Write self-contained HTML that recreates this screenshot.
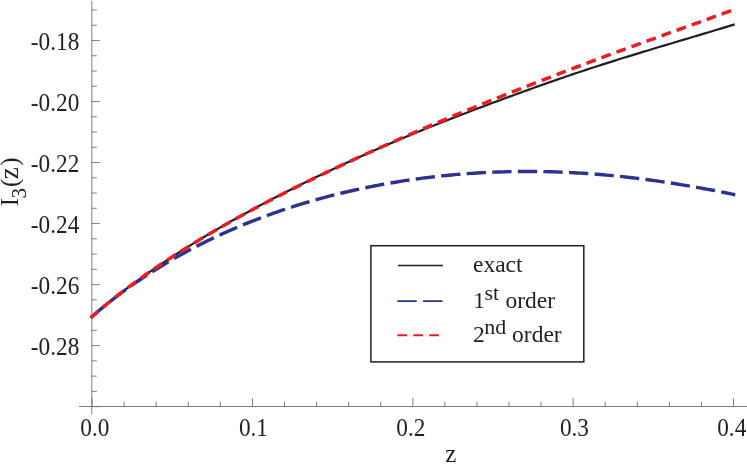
<!DOCTYPE html>
<html><head><meta charset="utf-8"><title>plot</title>
<style>
html,body{margin:0;padding:0;background:#fff;}
svg{display:block;will-change:transform;opacity:0.9999;}
text{font-family:"Liberation Serif", serif;fill:#231f20;}
</style></head><body>
<svg width="747" height="464" viewBox="0 0 747 464">
<rect width="747" height="464" fill="#fff"/>

<g stroke="#707070" stroke-width="0.9" fill="none">
<line x1="91.8" y1="1" x2="91.8" y2="414.6"/>
<line x1="78.8" y1="406.5" x2="747" y2="406.5"/>
<line x1="92.05" y1="406.5" x2="92.05" y2="398.10"/>
<line x1="124.12" y1="406.5" x2="124.12" y2="401.60"/>
<line x1="156.20" y1="406.5" x2="156.20" y2="401.60"/>
<line x1="188.27" y1="406.5" x2="188.27" y2="401.60"/>
<line x1="220.35" y1="406.5" x2="220.35" y2="401.60"/>
<line x1="252.42" y1="406.5" x2="252.42" y2="398.10"/>
<line x1="284.49" y1="406.5" x2="284.49" y2="401.60"/>
<line x1="316.57" y1="406.5" x2="316.57" y2="401.60"/>
<line x1="348.64" y1="406.5" x2="348.64" y2="401.60"/>
<line x1="380.72" y1="406.5" x2="380.72" y2="401.60"/>
<line x1="412.79" y1="406.5" x2="412.79" y2="398.10"/>
<line x1="444.86" y1="406.5" x2="444.86" y2="401.60"/>
<line x1="476.94" y1="406.5" x2="476.94" y2="401.60"/>
<line x1="509.01" y1="406.5" x2="509.01" y2="401.60"/>
<line x1="541.09" y1="406.5" x2="541.09" y2="401.60"/>
<line x1="573.16" y1="406.5" x2="573.16" y2="398.10"/>
<line x1="605.23" y1="406.5" x2="605.23" y2="401.60"/>
<line x1="637.31" y1="406.5" x2="637.31" y2="401.60"/>
<line x1="669.38" y1="406.5" x2="669.38" y2="401.60"/>
<line x1="701.46" y1="406.5" x2="701.46" y2="401.60"/>
<line x1="733.53" y1="406.5" x2="733.53" y2="398.10"/>
<line x1="91.8" y1="406.62" x2="99.80" y2="406.62"/>
<line x1="91.8" y1="391.36" x2="96.80" y2="391.36"/>
<line x1="91.8" y1="376.11" x2="96.80" y2="376.11"/>
<line x1="91.8" y1="360.85" x2="96.80" y2="360.85"/>
<line x1="91.8" y1="345.60" x2="99.80" y2="345.60"/>
<line x1="91.8" y1="330.34" x2="96.80" y2="330.34"/>
<line x1="91.8" y1="315.09" x2="96.80" y2="315.09"/>
<line x1="91.8" y1="299.84" x2="96.80" y2="299.84"/>
<line x1="91.8" y1="284.58" x2="99.80" y2="284.58"/>
<line x1="91.8" y1="269.33" x2="96.80" y2="269.33"/>
<line x1="91.8" y1="254.07" x2="96.80" y2="254.07"/>
<line x1="91.8" y1="238.81" x2="96.80" y2="238.81"/>
<line x1="91.8" y1="223.56" x2="99.80" y2="223.56"/>
<line x1="91.8" y1="208.30" x2="96.80" y2="208.30"/>
<line x1="91.8" y1="193.05" x2="96.80" y2="193.05"/>
<line x1="91.8" y1="177.79" x2="96.80" y2="177.79"/>
<line x1="91.8" y1="162.54" x2="99.80" y2="162.54"/>
<line x1="91.8" y1="147.28" x2="96.80" y2="147.28"/>
<line x1="91.8" y1="132.03" x2="96.80" y2="132.03"/>
<line x1="91.8" y1="116.77" x2="96.80" y2="116.77"/>
<line x1="91.8" y1="101.52" x2="99.80" y2="101.52"/>
<line x1="91.8" y1="86.27" x2="96.80" y2="86.27"/>
<line x1="91.8" y1="71.01" x2="96.80" y2="71.01"/>
<line x1="91.8" y1="55.76" x2="96.80" y2="55.76"/>
<line x1="91.8" y1="40.50" x2="99.80" y2="40.50"/>
<line x1="91.8" y1="25.24" x2="96.80" y2="25.24"/>
<line x1="91.8" y1="9.99" x2="96.80" y2="9.99"/>
</g>
<text transform="translate(80.28,436.40) scale(1,1.05)" font-size="23.3" text-anchor="start">0.0</text>
<text transform="translate(238.90,436.40) scale(1,1.05)" font-size="23.3" text-anchor="start">0.1</text>
<text transform="translate(396.27,436.40) scale(1,1.05)" font-size="23.3" text-anchor="start">0.2</text>
<text transform="translate(559.90,436.40) scale(1,1.05)" font-size="23.3" text-anchor="start">0.3</text>
<text transform="translate(717.20,436.40) scale(1,1.05)" font-size="23.3" text-anchor="start">0.4</text>
<text transform="translate(79.30,49.90) scale(1,1.05)" font-size="23.3" text-anchor="end">-0.18</text>
<text transform="translate(79.30,110.92) scale(1,1.05)" font-size="23.3" text-anchor="end">-0.20</text>
<text transform="translate(79.30,171.94) scale(1,1.05)" font-size="23.3" text-anchor="end">-0.22</text>
<text transform="translate(79.30,232.96) scale(1,1.05)" font-size="23.3" text-anchor="end">-0.24</text>
<text transform="translate(79.30,293.98) scale(1,1.05)" font-size="23.3" text-anchor="end">-0.26</text>
<text transform="translate(79.30,355.00) scale(1,1.05)" font-size="23.3" text-anchor="end">-0.28</text>
<text transform="translate(450.80,461.60) scale(1,1.02)" font-size="25" text-anchor="middle">z</text>
<g transform="translate(18.05,206.3) rotate(-90)"><text x="0" y="0" font-size="25">I</text><text x="7.83" y="7.55" font-size="21">3</text><text x="19.43" y="0" font-size="25">(</text><text x="27.0" y="0" font-size="27">z</text><text x="40.66" y="0" font-size="25">)</text></g>
<path d="M91.60,316.99 L94.81,314.16 L98.02,311.39 L101.23,308.68 L104.44,306.01 L107.65,303.38 L110.86,300.79 L114.07,298.24 L117.28,295.73 L120.49,293.24 L123.70,290.79 L126.91,288.37 L130.12,285.97 L133.34,283.61 L136.55,281.27 L139.76,278.95 L142.97,276.66 L146.18,274.39 L149.39,272.15 L152.60,269.93 L155.81,267.73 L159.02,265.55 L162.23,263.39 L165.44,261.25 L168.65,259.13 L171.86,257.03 L175.07,254.95 L178.28,252.89 L181.49,250.84 L184.70,248.82 L187.91,246.81 L191.12,244.82 L194.33,242.84 L197.54,240.88 L200.75,238.93 L203.96,237.00 L207.17,235.09 L210.39,233.19 L213.60,231.30 L216.81,229.43 L220.02,227.58 L223.23,225.73 L226.44,223.90 L229.65,222.08 L232.86,220.28 L236.07,218.48 L239.28,216.70 L242.49,214.93 L245.70,213.18 L248.91,211.43 L252.12,209.70 L255.33,207.97 L258.54,206.26 L261.75,204.56 L264.96,202.87 L268.17,201.18 L271.38,199.51 L274.59,197.85 L277.80,196.20 L281.01,194.55 L284.22,192.92 L287.43,191.29 L290.65,189.68 L293.86,188.07 L297.07,186.47 L300.28,184.88 L303.49,183.30 L306.70,181.73 L309.91,180.16 L313.12,178.61 L316.33,177.06 L319.54,175.52 L322.75,173.98 L325.96,172.46 L329.17,170.94 L332.38,169.43 L335.59,167.93 L338.80,166.43 L342.01,164.94 L345.22,163.46 L348.43,161.99 L351.64,160.52 L354.85,159.06 L358.06,157.61 L361.27,156.17 L364.48,154.73 L367.69,153.30 L370.91,151.88 L374.12,150.46 L377.33,149.05 L380.54,147.65 L383.75,146.26 L386.96,144.87 L390.17,143.50 L393.38,142.12 L396.59,140.76 L399.80,139.40 L403.01,138.05 L406.22,136.71 L409.43,135.38 L412.64,134.05 L415.85,132.73 L419.06,131.42 L422.27,130.11 L425.48,128.81 L428.69,127.52 L431.90,126.24 L435.11,124.96 L438.32,123.68 L441.53,122.42 L444.74,121.16 L447.96,119.90 L451.17,118.65 L454.38,117.41 L457.59,116.17 L460.80,114.94 L464.01,113.71 L467.22,112.48 L470.43,111.26 L473.64,110.05 L476.85,108.83 L480.06,107.62 L483.27,106.42 L486.48,105.21 L489.69,104.01 L492.90,102.82 L496.11,101.62 L499.32,100.43 L502.53,99.25 L505.74,98.06 L508.95,96.88 L512.16,95.70 L515.37,94.53 L518.58,93.36 L521.79,92.19 L525.00,91.03 L528.22,89.87 L531.43,88.71 L534.64,87.56 L537.85,86.41 L541.06,85.27 L544.27,84.14 L547.48,83.00 L550.69,81.88 L553.90,80.76 L557.11,79.64 L560.32,78.53 L563.53,77.43 L566.74,76.33 L569.95,75.24 L573.16,74.16 L576.37,73.08 L579.58,72.01 L582.79,70.94 L586.00,69.88 L589.21,68.82 L592.42,67.77 L595.63,66.73 L598.84,65.69 L602.05,64.66 L605.26,63.63 L608.48,62.61 L611.69,61.59 L614.90,60.58 L618.11,59.57 L621.32,58.57 L624.53,57.57 L627.74,56.58 L630.95,55.59 L634.16,54.60 L637.37,53.62 L640.58,52.64 L643.79,51.66 L647.00,50.69 L650.21,49.71 L653.42,48.75 L656.63,47.78 L659.84,46.82 L663.05,45.85 L666.26,44.89 L669.47,43.93 L672.68,42.98 L675.89,42.02 L679.10,41.06 L682.31,40.11 L685.53,39.15 L688.74,38.19 L691.95,37.24 L695.16,36.28 L698.37,35.33 L701.58,34.37 L704.79,33.41 L708.00,32.45 L711.21,31.48 L714.42,30.52 L717.63,29.55 L720.84,28.58 L724.05,27.61 L727.26,26.63 L730.47,25.65 L733.68,24.67" fill="none" stroke="#231f20" stroke-width="2.2" stroke-linecap="square"/>
<path d="M90.60,317.88 L93.82,315.03 L97.05,312.24 L100.27,309.52 L103.49,306.85 L106.72,304.24 L109.94,301.67 L113.16,299.16 L116.39,296.69 L119.61,294.26 L122.83,291.87 L126.06,289.52 L129.28,287.21 L132.51,284.93 L135.73,282.70 L138.95,280.49 L142.18,278.32 L145.40,276.19 L148.62,274.09 L151.85,272.02 L155.07,269.98 L158.29,267.97 L161.52,265.99 L164.74,264.05 L167.96,262.13 L171.19,260.24 L174.41,258.38 L177.63,256.55 L180.86,254.74 L184.08,252.96 L187.30,251.21 L190.53,249.49 L193.75,247.79 L196.97,246.12 L200.20,244.48 L203.42,242.86 L206.64,241.26 L209.87,239.69 L213.09,238.14 L216.31,236.62 L219.54,235.12 L222.76,233.64 L225.98,232.18 L229.21,230.75 L232.43,229.34 L235.65,227.96 L238.88,226.59 L242.10,225.25 L245.32,223.92 L248.55,222.62 L251.77,221.34 L255.00,220.08 L258.22,218.84 L261.44,217.62 L264.67,216.42 L267.89,215.24 L271.11,214.07 L274.34,212.93 L277.56,211.81 L280.78,210.70 L284.01,209.61 L287.23,208.54 L290.45,207.49 L293.68,206.46 L296.90,205.45 L300.12,204.45 L303.35,203.47 L306.57,202.50 L309.79,201.56 L313.02,200.63 L316.24,199.72 L319.46,198.82 L322.69,197.94 L325.91,197.08 L329.13,196.23 L332.36,195.40 L335.58,194.58 L338.80,193.78 L342.03,193.00 L345.25,192.23 L348.47,191.48 L351.70,190.74 L354.92,190.02 L358.14,189.31 L361.37,188.62 L364.59,187.94 L367.82,187.28 L371.04,186.63 L374.26,186.00 L377.49,185.38 L380.71,184.77 L383.93,184.18 L387.16,183.60 L390.38,183.04 L393.60,182.49 L396.83,181.96 L400.05,181.44 L403.27,180.93 L406.50,180.44 L409.72,179.96 L412.94,179.50 L416.17,179.05 L419.39,178.61 L422.61,178.18 L425.84,177.77 L429.06,177.38 L432.28,176.99 L435.51,176.62 L438.73,176.26 L441.95,175.92 L445.18,175.59 L448.40,175.27 L451.62,174.96 L454.85,174.67 L458.07,174.39 L461.29,174.13 L464.52,173.87 L467.74,173.63 L470.96,173.41 L474.19,173.19 L477.41,172.99 L480.63,172.80 L483.86,172.63 L487.08,172.46 L490.31,172.31 L493.53,172.17 L496.75,172.05 L499.98,171.94 L503.20,171.83 L506.42,171.75 L509.65,171.67 L512.87,171.61 L516.09,171.56 L519.32,171.52 L522.54,171.50 L525.76,171.48 L528.99,171.48 L532.21,171.49 L535.43,171.52 L538.66,171.55 L541.88,171.60 L545.10,171.66 L548.33,171.73 L551.55,171.82 L554.77,171.92 L558.00,172.02 L561.22,172.15 L564.44,172.28 L567.67,172.42 L570.89,172.58 L574.11,172.75 L577.34,172.93 L580.56,173.12 L583.78,173.32 L587.01,173.54 L590.23,173.77 L593.45,174.00 L596.68,174.25 L599.90,174.52 L603.12,174.79 L606.35,175.07 L609.57,175.37 L612.80,175.67 L616.02,175.99 L619.24,176.32 L622.47,176.66 L625.69,177.01 L628.91,177.37 L632.14,177.74 L635.36,178.13 L638.58,178.52 L641.81,178.92 L645.03,179.34 L648.25,179.76 L651.48,180.20 L654.70,180.64 L657.92,181.10 L661.15,181.56 L664.37,182.04 L667.59,182.52 L670.82,183.02 L674.04,183.52 L677.26,184.04 L680.49,184.56 L683.71,185.09 L686.93,185.63 L690.16,186.18 L693.38,186.74 L696.60,187.30 L699.83,187.88 L703.05,188.46 L706.27,189.05 L709.50,189.65 L712.72,190.26 L715.94,190.87 L719.17,191.50 L722.39,192.13 L725.61,192.76 L728.84,193.41 L732.06,194.06 L735.29,194.71" fill="none" stroke="#2e3192" stroke-width="3.4" stroke-dasharray="19.3 6.3" stroke-dashoffset="-0.15"/>
<path d="M90.60,317.88 L93.82,315.03 L97.03,312.24 L100.25,309.51 L103.46,306.82 L106.68,304.17 L109.89,301.57 L113.11,299.01 L116.32,296.48 L119.54,293.98 L122.75,291.52 L125.97,289.08 L129.19,286.68 L132.40,284.30 L135.62,281.95 L138.83,279.63 L142.05,277.33 L145.26,275.05 L148.48,272.80 L151.69,270.57 L154.91,268.36 L158.12,266.18 L161.34,264.01 L164.55,261.87 L167.77,259.75 L170.99,257.64 L174.20,255.56 L177.42,253.49 L180.63,251.45 L183.85,249.42 L187.06,247.40 L190.28,245.41 L193.49,243.43 L196.71,241.47 L199.92,239.52 L203.14,237.59 L206.36,235.68 L209.57,233.78 L212.79,231.89 L216.00,230.02 L219.22,228.16 L222.43,226.32 L225.65,224.49 L228.86,222.67 L232.08,220.86 L235.29,219.07 L238.51,217.29 L241.72,215.52 L244.94,213.76 L248.16,212.02 L251.37,210.28 L254.59,208.56 L257.80,206.85 L261.02,205.14 L264.23,203.45 L267.45,201.77 L270.66,200.09 L273.88,198.43 L277.09,196.77 L280.31,195.13 L283.52,193.49 L286.74,191.86 L289.96,190.24 L293.17,188.63 L296.39,187.03 L299.60,185.43 L302.82,183.84 L306.03,182.26 L309.25,180.69 L312.46,179.12 L315.68,177.56 L318.89,176.01 L322.11,174.47 L325.33,172.93 L328.54,171.40 L331.76,169.87 L334.97,168.35 L338.19,166.84 L341.40,165.33 L344.62,163.83 L347.83,162.34 L351.05,160.85 L354.26,159.36 L357.48,157.88 L360.69,156.41 L363.91,154.94 L367.13,153.48 L370.34,152.02 L373.56,150.57 L376.77,149.13 L379.99,147.68 L383.20,146.25 L386.42,144.81 L389.63,143.39 L392.85,141.96 L396.06,140.54 L399.28,139.13 L402.49,137.72 L405.71,136.32 L408.93,134.91 L412.14,133.52 L415.36,132.13 L418.57,130.74 L421.79,129.35 L425.00,127.97 L428.22,126.60 L431.43,125.23 L434.65,123.86 L437.86,122.50 L441.08,121.14 L444.29,119.78 L447.51,118.43 L450.73,117.08 L453.94,115.73 L457.16,114.39 L460.37,113.06 L463.59,111.72 L466.80,110.40 L470.02,109.07 L473.23,107.75 L476.45,106.43 L479.66,105.11 L482.88,103.80 L486.10,102.50 L489.31,101.19 L492.53,99.89 L495.74,98.59 L498.96,97.30 L502.17,96.01 L505.39,94.72 L508.60,93.44 L511.82,92.16 L515.03,90.89 L518.25,89.61 L521.46,88.34 L524.68,87.08 L527.90,85.81 L531.11,84.55 L534.33,83.30 L537.54,82.04 L540.76,80.79 L543.97,79.55 L547.19,78.30 L550.40,77.06 L553.62,75.83 L556.83,74.59 L560.05,73.36 L563.26,72.13 L566.48,70.91 L569.70,69.69 L572.91,68.47 L576.13,67.25 L579.34,66.04 L582.56,64.83 L585.77,63.62 L588.99,62.41 L592.20,61.21 L595.42,60.01 L598.63,58.81 L601.85,57.62 L605.07,56.42 L608.28,55.23 L611.50,54.04 L614.71,52.86 L617.93,51.68 L621.14,50.49 L624.36,49.31 L627.57,48.14 L630.79,46.96 L634.00,45.79 L637.22,44.61 L640.43,43.44 L643.65,42.27 L646.87,41.11 L650.08,39.94 L653.30,38.78 L656.51,37.61 L659.73,36.45 L662.94,35.29 L666.16,34.13 L669.37,32.96 L672.59,31.80 L675.80,30.64 L679.02,29.49 L682.23,28.33 L685.45,27.17 L688.67,26.01 L691.88,24.85 L695.10,23.69 L698.31,22.53 L701.53,21.36 L704.74,20.20 L707.96,19.04 L711.17,17.87 L714.39,16.71 L717.60,15.54 L720.82,14.37 L724.03,13.19 L727.25,12.02 L730.47,10.84 L733.68,9.66" fill="none" stroke="#ed1c24" stroke-width="3.5" stroke-dasharray="9.9 6.1" stroke-dashoffset="0"/>
<rect x="370.9" y="245.7" width="212.9" height="116.2" fill="#fff" stroke="#231f20" stroke-width="1.5"/>
<line x1="398.0" y1="265.5" x2="442.9" y2="265.5" stroke="#231f20" stroke-width="1.5"/>
<line x1="397.4" y1="301.1" x2="442.4" y2="301.1" stroke="#2e3192" stroke-width="1.9" stroke-dasharray="19.4 6.2"/>
<line x1="397.4" y1="335.3" x2="438.9" y2="335.3" stroke="#ed1c24" stroke-width="1.9" stroke-dasharray="9.7 6.2"/>
<text transform="translate(473.00,271.90) scale(1,1.02)" font-size="23.5" text-anchor="start">exact</text>
<text transform="translate(473.30,307.70) scale(1,1.0)" font-size="23.5" text-anchor="start">1</text>
<text transform="translate(484.50,300.20) scale(1,0.98)" font-size="22" text-anchor="start">st</text>
<text transform="translate(505.40,307.70) scale(1,1.02)" font-size="23.5" text-anchor="start">order</text>
<text transform="translate(473.00,341.60) scale(1,1.0)" font-size="23.5" text-anchor="start">2</text>
<text transform="translate(484.15,334.30) scale(1,0.98)" font-size="22" text-anchor="start">nd</text>
<text transform="translate(512.10,341.60) scale(1,1.02)" font-size="23.5" text-anchor="start">order</text>
</svg></body></html>
